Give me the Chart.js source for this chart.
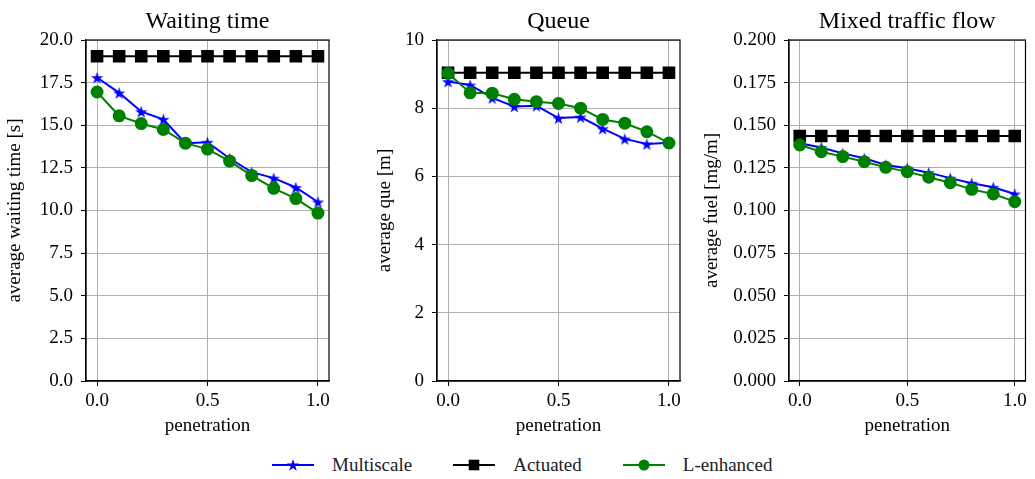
<!DOCTYPE html>
<html>
<head>
<meta charset="utf-8">
<script src="https://cdn.jsdelivr.net/npm/chart.js@4.4.1/dist/chart.umd.min.js"></script>
<style>
  body { margin: 0; background: #fff; width: 1035px; height: 479px; overflow: hidden; position: relative; }
  .panel { position: absolute; top: 0; height: 445px; }
  #legend { position: absolute; left: 272px; top: 454px; display: flex; align-items: center;
            font-family: "Liberation Serif", "Times New Roman", serif; font-size: 19px; color: #222; }
  .item { display: flex; align-items: center; margin-right: 41px; }
  .item svg { margin-right: 18px; }
</style>
</head>
<body>
<div class="panel" style="left:0px;width:340px"><canvas id="c1"></canvas></div>
<div class="panel" style="left:370px;width:320px"><canvas id="c2"></canvas></div>
<div class="panel" style="left:697px;width:338px"><canvas id="c3"></canvas></div>
<div id="legend">
  <div class="item">
    <svg width="42" height="14"><line x1="0" y1="7" x2="42" y2="7" stroke="#0000ff" stroke-width="2"/>
      <polygon id="legStar" fill="#0000ff"/></svg>Multiscale</div>
  <div class="item">
    <svg width="42" height="14"><line x1="0" y1="7" x2="42" y2="7" stroke="#000" stroke-width="2"/>
      <rect x="15.7" y="1.7" width="10.6" height="10.6" fill="#000"/></svg>Actuated</div>
  <div class="item">
    <svg width="42" height="14"><line x1="0" y1="7" x2="42" y2="7" stroke="#008000" stroke-width="2"/>
      <circle cx="21" cy="7" r="5.5" fill="#008000"/></svg>L-enhanced</div>
</div>
<script>
// penetration rate (x axis)
const penetration = [0, 0.1, 0.2, 0.3, 0.4, 0.5, 0.6, 0.7, 0.8, 0.9, 1.0];
const xTicks = [0, 0.5, 1.0];

// Waiting time [s]
const waitMultiscale = [17.8, 16.9, 15.8, 15.35, 13.95, 14.0, 13.05, 12.25, 11.9, 11.35, 10.5];
const waitActuated = [19.05, 19.05, 19.05, 19.05, 19.05, 19.05, 19.05, 19.05, 19.05, 19.05, 19.05];
const waitLenhanced = [16.95, 15.55, 15.1, 14.75, 13.95, 13.6, 12.9, 12.05, 11.3, 10.7, 9.85];

// Queue [m]
const queueMultiscale = [8.78, 8.68, 8.3, 8.05, 8.07, 7.71, 7.74, 7.4, 7.1, 6.95, 6.99];
const queueActuated = [9.04, 9.04, 9.04, 9.04, 9.04, 9.04, 9.04, 9.04, 9.04, 9.04, 9.04];
const queueLenhanced = [9.02, 8.45, 8.44, 8.26, 8.19, 8.14, 8.0, 7.67, 7.56, 7.31, 6.98];

// Fuel [mg/m]
const fuelMultiscale = [0.1395, 0.137, 0.1335, 0.1306, 0.1267, 0.1248, 0.1222, 0.119, 0.116, 0.1136, 0.1097];
const fuelActuated = [0.1437, 0.1437, 0.1437, 0.1437, 0.1437, 0.1437, 0.1437, 0.1437, 0.1437, 0.1437, 0.1437];
const fuelLenhanced = [0.1384, 0.1345, 0.1316, 0.1286, 0.1253, 0.1228, 0.1195, 0.1163, 0.1124, 0.1097, 0.1052];

const FONT = "'Liberation Serif', 'Times New Roman', serif";

// star points for a filled 5-point star (like matplotlib '*')
function starPoints(cx, cy, R) {
    const pts = [];
    for (let i = 0; i < 10; i++) {
        const a = -Math.PI / 2 + i * Math.PI / 5;
        const r = i % 2 ? R * 0.382 : R;
        pts.push([cx + r * Math.cos(a), cy + r * Math.sin(a)]);
    }
    return pts;
}
function starImage(R, color) {
    const s = Math.ceil(R * 2) + 2;
    const c = document.createElement('canvas');
    c.width = s; c.height = s;
    const g = c.getContext('2d');
    g.fillStyle = color;
    g.beginPath();
    starPoints(s / 2, s / 2 + R * 0.1, R).forEach((p, i) => i ? g.lineTo(p[0], p[1]) : g.moveTo(p[0], p[1]));
    g.closePath();
    g.fill();
    return c;
}
document.getElementById('legStar').setAttribute('points',
    starPoints(21, 7.6, 6.5).map(p => p.join(',')).join(' '));
const star = starImage(6.5, '#0000ff');

// frame on all four sides
const framePlugin = {
    id: 'frame',
    afterDraw(chart) {
        const a = chart.chartArea, ctx = chart.ctx;
        ctx.save();
        ctx.strokeStyle = '#000';
        ctx.lineWidth = 1.2;
        ctx.strokeRect(a.left, a.top, a.right - a.left, a.bottom - a.top);
        ctx.restore();
    }
};

function pts(ys) { return ys.map((y, i) => ({ x: penetration[i], y: y })); }

function makeChart(id, cfg) {
    new Chart(document.getElementById(id), {
        type: 'line',
        data: {
            datasets: [
                { label: 'Multiscale', data: pts(cfg.multi), borderColor: '#0000ff', backgroundColor: '#0000ff',
                  borderWidth: 2, pointStyle: star, pointRadius: 6.5, order: 3 },
                { label: 'Actuated', data: pts(cfg.act), borderColor: '#000', backgroundColor: '#000',
                  borderWidth: 2, pointStyle: 'rect', pointRadius: 7.5, order: 2 },
                { label: 'L-enhanced', data: pts(cfg.lenh), borderColor: '#008000', backgroundColor: '#008000',
                  borderWidth: 2, pointStyle: 'circle', pointRadius: 5.5, order: 1 }
            ]
        },
        options: {
            responsive: true,
            maintainAspectRatio: false,
            animation: false,
            layout: { padding: { left: 0, right: cfg.padRight, top: 0, bottom: 0 } },
            plugins: {
                legend: { display: false },
                tooltip: { enabled: false },
                title: {
                    display: true, text: cfg.title, color: '#000', fullSize: false,
                    font: { family: FONT, size: 24, weight: 'normal' },
                    padding: { top: 7, bottom: 4.2 }
                }
            },
            elements: { point: { borderWidth: 0 }, line: { tension: 0 } },
            scales: {
                x: {
                    type: 'linear', min: -0.05, max: 1.05,
                    afterBuildTicks: s => { s.ticks = xTicks.map(v => ({ value: v })); },
                    afterFit: s => { s.height = 64; },
                    ticks: { color: '#000', font: { family: FONT, size: 19 }, padding: 4,
                             callback: v => v.toFixed(1), maxRotation: 0 },
                    grid: { color: '#b0b0b0', lineWidth: 1, tickColor: '#000', tickLength: 5 },
                    border: { display: true, color: '#000', width: 1.2 },
                    title: { display: true, text: 'penetration', color: '#000',
                             font: { family: FONT, size: 19 }, padding: { top: 0, bottom: 8 } }
                },
                y: {
                    min: cfg.min, max: cfg.max,
                    afterFit: s => { s.width = cfg.yWidth; },
                    ticks: { stepSize: cfg.step, color: '#000', font: { family: FONT, size: 19 }, padding: 8,
                             callback: v => v.toFixed(cfg.dec) },
                    grid: { color: '#b0b0b0', lineWidth: 1, tickColor: '#000', tickLength: 5 },
                    border: { display: true, color: '#000', width: 1.2 },
                    title: { display: true, text: cfg.yLabel, color: '#000',
                             font: { family: FONT, size: 19 }, padding: { top: 4, bottom: 0 } }
                }
            }
        },
        plugins: [framePlugin]
    });
}

makeChart('c1', { title: 'Waiting time', yLabel: 'average waiting time [s]', min: 0, max: 20, step: 2.5, dec: 1,
                  yWidth: 86, padRight: 11, multi: waitMultiscale, act: waitActuated, lenh: waitLenhanced });
makeChart('c2', { title: 'Queue', yLabel: 'average que [m]', min: 0, max: 10, step: 2, dec: 0,
                  yWidth: 67, padRight: 10, multi: queueMultiscale, act: queueActuated, lenh: queueLenhanced });
makeChart('c3', { title: 'Mixed traffic flow', yLabel: 'average fuel [mg/m]', min: 0, max: 0.2, step: 0.025, dec: 3,
                  yWidth: 92, padRight: 4, multi: fuelMultiscale, act: fuelActuated, lenh: fuelLenhanced });
</script>
</body>
</html>
